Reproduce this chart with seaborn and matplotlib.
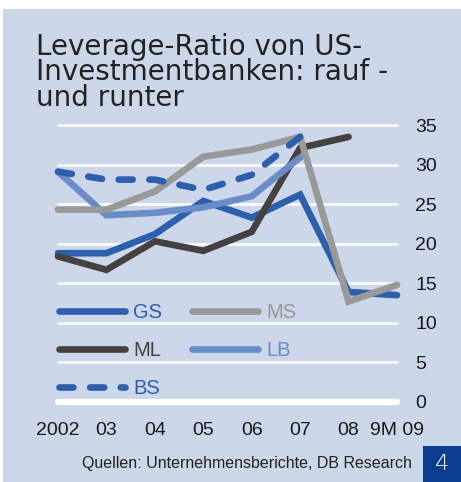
import matplotlib
matplotlib.use("Agg")
import matplotlib.pyplot as plt
from matplotlib.patches import Rectangle
from matplotlib.lines import Line2D
import seaborn as sns
import numpy as np
import pandas as pd

years = ["2002", "03", "04", "05", "06", "07", "08", "9M 09"]
gs = [18.8, 18.8, 21.2, 25.4, 23.3, 26.2, 13.9, 13.5]
ms = [24.3, 24.3, 26.6, 31.0, 31.9, 33.5, 12.7, 14.8]
ml = [18.4, 16.7, 20.3, 19.1, 21.5, 32.1, 33.5, np.nan]
lb = [29.1, 23.6, 23.9, 24.6, 26.0, 30.9, np.nan, np.nan]
bs = [29.1, 28.1, 28.1, 26.8, 28.7, 33.5, np.nan, np.nan]
yticks = [0, 5, 10, 15, 20, 25, 30, 35]

title = "Leverage-Ratio von US-\nInvestmentbanken: rauf -\nund runter"
source = "Quellen: Unternehmensberichte, DB Research"
page = "4"

BG = "#CCD7E9"
C_GS = "#2E5FAD"
C_MS = "#999999"
C_ML = "#454141"
C_LB = "#6A8CC7"
C_BS = "#2E5FAD"

sns.set_style("white")
plt.rcParams["font.family"] = ["Liberation Sans", "DejaVu Sans"]

W, H = 461, 482
fig = plt.figure(figsize=(W / 100, H / 100), dpi=100, facecolor="white")
fig.patches.append(Rectangle((3 / W, 0), 1 - 3 / W, 1 - 9 / H, transform=fig.transFigure,
                             facecolor=BG, edgecolor="none", zorder=-5))
fig.patches.append(Rectangle((422.7 / W, 0), 1 - 422.7 / W, 36 / H, transform=fig.transFigure,
                             facecolor="#0B3D8E", edgecolor="none", zorder=-4))

def fx(px):
    return px / W

def fy(py):
    return 1 - py / H

ax_l, ax_r, ax_t, ax_b = 58, 397, 125, 402
ax = fig.add_axes([fx(ax_l), fy(ax_b), (ax_r - ax_l) / W, (ax_b - ax_t) / H])
ax.set_facecolor("none")

x = np.arange(len(years))
df = pd.DataFrame({"x": x, "GS": gs, "MS": ms, "ML": ml, "LB": lb, "BS": bs})

for v in yticks[1:]:
    ax.axhline(v, color="white", lw=1.9, zorder=1, clip_on=False)
ax.axhline(0, color="white", lw=4.5, zorder=1, clip_on=False)

LW = 4.8
order = [("GS", C_GS, "-"), ("ML", C_ML, "-"), ("LB", C_LB, "-"), ("MS", C_MS, "-"),
         ("BS", C_BS, (0, (2.1, 2.5)))]
handles = {}
for name, col, ls in order:
    sns.lineplot(data=df, x="x", y=name, ax=ax, color=col, lw=LW, linestyle=ls,
                 solid_capstyle="round", dash_capstyle="round", solid_joinstyle="miter",
                 zorder=3, clip_on=False)
    handles[name] = Line2D([], [], color=col, lw=LW, linestyle=ls,
                           solid_capstyle="round", dash_capstyle="round")

ax.set_xlim(0, 7)
ax.set_ylim(0, 35)
ax.set_xlabel("")
ax.set_ylabel("")
ax.set_xticks(x)
ax.set_xticklabels(years)
ax.set_yticks(yticks)
ax.set_yticklabels([str(v) for v in yticks])
ax.yaxis.tick_right()
ax.tick_params(axis="y", length=0, pad=13.3, labelsize=14, colors="#1a1a1a")
ax.tick_params(axis="x", length=0, pad=14.6, labelsize=14, colors="#1a1a1a")
for s in ax.spines.values():
    s.set_visible(False)

names = ["GS", "ML", "BS", "MS", "LB"]
leg = fig.legend([handles[n] for n in names], names, ncol=2, frameon=False,
                 loc="upper left", bbox_to_anchor=(fx(58.5), fy(303)),
                 bbox_transform=fig.transFigure, borderaxespad=0, borderpad=0,
                 handlelength=3.3, handletextpad=0.42, columnspacing=1.45,
                 labelspacing=0.95, fontsize=14.5, labelcolor="linecolor")

fig.text(fx(36), fy(106.3), title, fontsize=20, family=["DejaVu Sans"], color="#222222",
         va="baseline", ha="left", linespacing=0.9)

fig.text(fx(412), fy(468), source, fontsize=11.5, color="#222222", ha="right", va="baseline")
fig.text(fx(441.8), fy(464), page, fontsize=16, color="white", ha="center", va="center",
         family=["DejaVu Sans"], fontweight="light")

fig.savefig("out.png", dpi=100, facecolor="white")
